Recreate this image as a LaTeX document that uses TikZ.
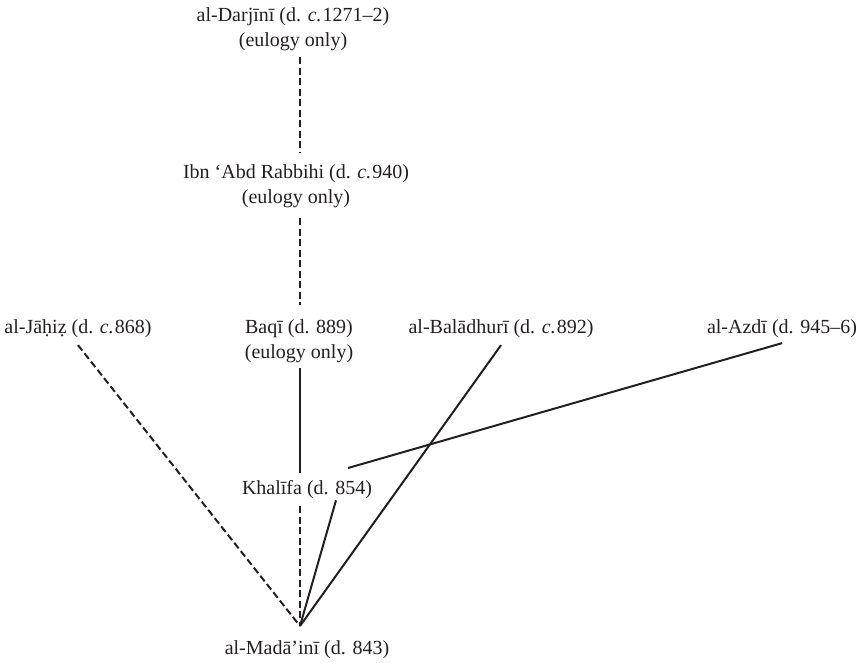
\documentclass[tikz,border=0pt]{standalone}
\usepackage{fontspec}
\setmainfont{Liberation Serif}
\definecolor{ink}{HTML}{231F20}
\begin{document}
\begin{tikzpicture}[x=1pt,y=-1pt,
  txt/.style={inner sep=0pt, outer sep=0pt, align=center, anchor=north,
    font=\fontsize{20}{25}\selectfont, text=ink},
  solidline/.style={draw=ink, line width=2pt},
  dashline/.style={solidline, dash pattern=on 7pt off 3.5pt}]
\useasboundingbox (0,0) rectangle (864,662);

% authorities
\node[txt] (darjini) at (293,8)   {al-Darjīnī (d. \textit{c.}\kern1pt 1271–2)\\(eulogy only)};
\node[txt] (ibn)     at (296,165) {Ibn ‘Abd Rabbihi (d. \textit{c.}\kern1pt 940)\\(eulogy only)};
\node[txt] (jahiz)   at (78,320)  {al-Jāḥiẓ (d. \textit{c.}\kern1pt 868)};
\node[txt] (baqi)    at (299,320) {Baqī (d. 889)\\(eulogy only)};
\node[txt] (bal)     at (501,320) {al-Balādhurī (d. \textit{c.}\kern1pt 892)};
\node[txt] (azdi)    at (782,320) {al-Azdī (d. 945–6)};
\node[txt] (khalifa) at (307,480) {Khalīfa (d. 854)};
\node[txt] (madaini) at (307,641) {al-Madā’inī (d. 843)};

% meeting point above al-Madā'inī
\coordinate (apex) at ([xshift=-7pt,yshift=15pt]madaini.north);

% vertical chain
\draw[dashline, shorten <=6pt, shorten >=13pt] (darjini.south -| apex) -- (ibn.north -| apex);
\draw[dashline, shorten <=10pt, shorten >=15pt] (ibn.south -| apex) -- (baqi.north -| apex);
\draw[solidline, shorten <=5pt, shorten >=7pt] (baqi.south -| apex) -- (khalifa.north -| apex);
\draw[dashline, shorten <=8pt] (khalifa.south -| apex) -- (apex);

% other lines of transmission
\draw[dashline] ([yshift=-7pt]jahiz.south) -- (apex);
\draw[solidline] ([yshift=-7pt]bal.south) -- (apex);
\draw[solidline] ([xshift=29pt,yshift=-2pt]khalifa.south) -- (apex);
\draw[solidline] ([yshift=-5pt]azdi.south) -- ([xshift=41pt,yshift=12pt]khalifa.north);
\end{tikzpicture}
\end{document}
